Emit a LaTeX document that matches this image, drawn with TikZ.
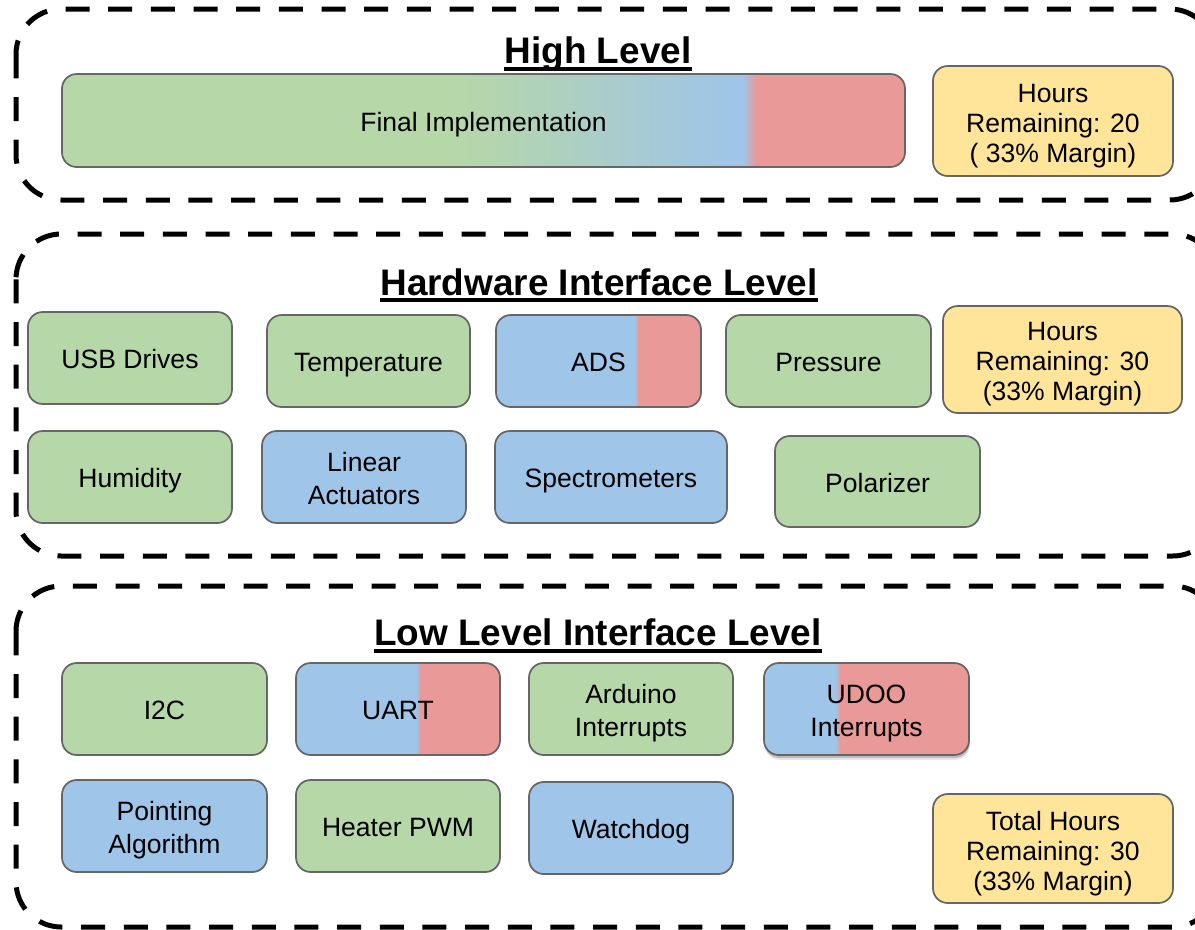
\documentclass[tikz,border=0pt]{standalone}
\usepackage{fontspec}
\setmainfont{Liberation Sans}
\usetikzlibrary{calc,shadows}
\definecolor{cgreen}{HTML}{B6D7A8}
\definecolor{cblue}{HTML}{9FC5E8}
\definecolor{cred}{HTML}{EA9999}
\definecolor{cyellow}{HTML}{FFE599}
\definecolor{cborder}{HTML}{666666}
\tikzset{
  box/.style={draw=cborder, line width=1.3pt, rounded corners=11pt, inner sep=0pt},
  txt/.style={align=center, inner sep=0pt, font=\fontsize{19.9}{22.5}\selectfont, text=black},
  one/.style={text height=14.6pt, text depth=2.2pt, yshift=-2pt},
  ml/.style={yshift=-3.6pt},
  mltwo/.style={font=\fontsize{19.9}{24.5}\selectfont, yshift=-1pt},
  mltwop/.style={mltwo, yshift=-2.2pt},
  gbox/.style={fill=cgreen},
  bbox/.style={fill=cblue},
  ybox/.style={fill=cyellow},
  split/.style={path picture={
    \fill[cblue, sharp corners] let \p1=(path picture bounding box.south west), \p2=(path picture bounding box.north east)
      in (\x1,\y1) rectangle ({\x1+#1*(\x2-\x1)},\y2);
    \fill[cred, sharp corners] let \p1=(path picture bounding box.south west), \p2=(path picture bounding box.north east)
      in ({\x1+#1*(\x2-\x1)},\y1) rectangle (\x2,\y2);
    \shade[left color=cblue, right color=cred, sharp corners] let \p1=(path picture bounding box.south west), \p2=(path picture bounding box.north east)
      in ({\x1+#1*(\x2-\x1)-1.5pt},\y1) rectangle ({\x1+#1*(\x2-\x1)+1.5pt},\y2);
  }},
  grad/.style={path picture={
    \fill[cgreen, sharp corners] let \p1=(path picture bounding box.south west), \p2=(path picture bounding box.north east)
      in (\x1,\y1) rectangle ({\x1+0.47*(\x2-\x1)+0.5pt},\y2);
    \shade[left color=cgreen, right color=cblue, sharp corners] let \p1=(path picture bounding box.south west), \p2=(path picture bounding box.north east)
      in ({\x1+0.47*(\x2-\x1)},\y1) rectangle ({\x1+0.797*(\x2-\x1)},\y2);
    \fill[cblue, sharp corners] let \p1=(path picture bounding box.south west), \p2=(path picture bounding box.north east)
      in ({\x1+0.797*(\x2-\x1)-0.5pt},\y1) rectangle ({\x1+0.808*(\x2-\x1)+0.5pt},\y2);
    \shade[left color=cblue, right color=cred, sharp corners] let \p1=(path picture bounding box.south west), \p2=(path picture bounding box.north east)
      in ({\x1+0.808*(\x2-\x1)},\y1) rectangle ({\x1+0.823*(\x2-\x1)},\y2);
    \fill[cred, sharp corners] let \p1=(path picture bounding box.south west), \p2=(path picture bounding box.north east)
      in ({\x1+0.823*(\x2-\x1)-0.5pt},\y1) rectangle (\x2,\y2);
  }},
  cont/.style={line width=3.75pt, dash pattern=on 18pt off 14pt, rounded corners=34pt},
  title/.style={font=\fontsize{27.7}{30}\selectfont\bfseries, inner sep=0pt, anchor=base},
  uline/.style={line width=2.6pt},
  shad/.style={drop shadow={shadow xshift=0.6pt, shadow yshift=-3.6pt, opacity=0.1, fill=black},
               drop shadow={shadow xshift=0.4pt, shadow yshift=-2.2pt, opacity=0.18, fill=black}}
}
\newcommand\mybox[8][one]{\node[box,#3,minimum width={(#6-#4)*0.75pt},minimum height={(#7-#5)*0.75pt},
  label={[txt,#1]center:{#8}}] (#2) at ({(#4+#6)/2},{(#5+#7)/2}) {};}
\begin{document}
\begin{tikzpicture}[x=0.75pt,y=-0.75pt]
\useasboundingbox (0,0) rectangle (1195,929);
\clip (0,0) rectangle (1195,929);
% containers
\draw[cont] (16,9) rectangle (1215,200);
\draw[cont] (16,234) rectangle (1218,556);
\draw[cont] (16,586) rectangle (1218,927);
% titles
\node[title] (t1) at (598,63) {High Level};
\draw[uline] ($(t1.base west)+(0,6)$) -- ($(t1.base east)+(0,6)$);
\node[title] (t2) at (599,295) {Hardware Interface Level};
\draw[uline] ($(t2.base west)+(0,5)$) -- ($(t2.base east)+(0,5)$);
\node[title] (t3) at (598,645) {Low Level Interface Level};
\draw[uline] ($(t3.base west)+(0,6)$) -- ($(t3.base east)+(0,6)$);
% high level
\mybox{fin}{grad}{62}{74}{905}{167}{Final Implementation}
\mybox[ml]{h1}{ybox}{933}{66}{1173}{176}{Hours\\Remaining: 20\\( 33\% Margin)}
% hardware interface level
\mybox{usb}{gbox}{28}{312}{232}{404}{USB Drives}
\mybox{temp}{gbox}{267}{315}{470}{407}{Temperature}
\mybox{ads}{split=0.685}{496}{315}{701}{407}{ADS}
\mybox{pres}{gbox}{726}{315}{931}{407}{Pressure}
\mybox[ml]{h2}{ybox}{943}{306}{1182}{413}{Hours\\Remaining: 30\\(33\% Margin)}
\mybox{hum}{gbox}{28}{431}{232}{523}{Humidity}
\mybox[mltwo]{lin}{bbox}{262}{431}{466}{523}{Linear\\Actuators}
\mybox{spec}{bbox}{495}{431}{727}{523}{Spectrometers}
\mybox{pol}{gbox}{775}{436}{980}{527}{Polarizer}
% low level interface level
\mybox{i2c}{gbox}{62}{663}{267}{755}{I2C}
\mybox{uart}{split=0.6}{296}{663}{500}{755}{UART}
\mybox[mltwop]{ard}{gbox}{529}{663}{733}{755}{Arduino\\Interrupts}
\mybox[mltwop]{udoo}{split=0.36,shad}{764}{663}{969}{755}{UDOO\\Interrupts}
\mybox[mltwop]{point}{bbox}{62}{780}{267}{872}{Pointing\\Algorithm}
\mybox{heat}{gbox}{296}{780}{500}{872}{Heater PWM}
\mybox{watch}{bbox}{529}{782}{733}{874}{Watchdog}
\mybox[ml]{h3}{ybox}{933}{794}{1173}{903}{Total Hours\\Remaining: 30\\(33\% Margin)}
\end{tikzpicture}
\end{document}
